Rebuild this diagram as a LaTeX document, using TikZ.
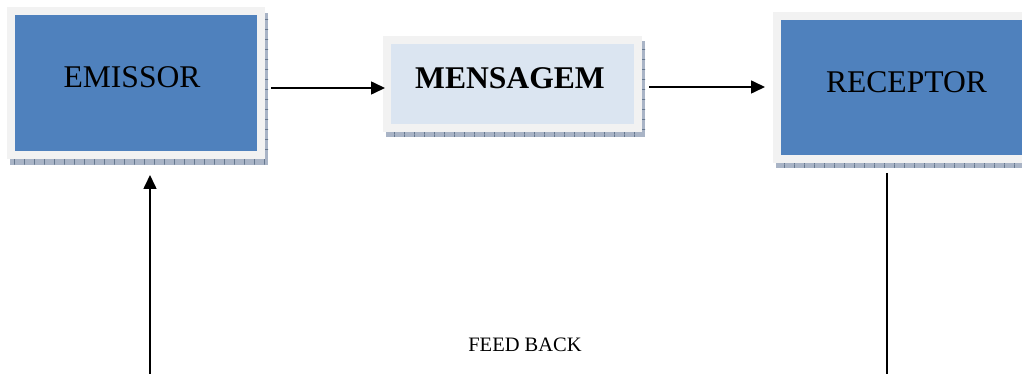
\documentclass[tikz,border=0pt]{standalone}
\usepackage{fontspec}
\setmainfont{Liberation Serif}
\usetikzlibrary{arrows.meta,calc,backgrounds,patterns}

\definecolor{boxblue}{HTML}{4F81BD}
\definecolor{paleblue}{HTML}{DBE5F1}
\definecolor{framegray}{HTML}{F2F2F2}
\definecolor{shadowfill}{HTML}{A9B4C6}
\definecolor{shadowtick}{HTML}{66788F}

% tick marks for the drop shadows
\pgfdeclarepatternformonly{vticks}{\pgfpointorigin}{\pgfpoint{10pt}{10pt}}{\pgfpoint{10pt}{10pt}}{%
  \pgfsetlinewidth{0.8pt}%
  \pgfpathmoveto{\pgfpoint{5pt}{0pt}}\pgfpathlineto{\pgfpoint{5pt}{10pt}}\pgfusepath{stroke}}
\pgfdeclarepatternformonly{hticks}{\pgfpointorigin}{\pgfpoint{10pt}{10pt}}{\pgfpoint{10pt}{10pt}}{%
  \pgfsetlinewidth{0.8pt}%
  \pgfpathmoveto{\pgfpoint{0pt}{5pt}}\pgfpathlineto{\pgfpoint{10pt}{5pt}}\pgfusepath{stroke}}

% drop shadow below and to the right of a box: #1 node, #2 dx, #3 dy
\newcommand\boxshadow[3]{%
  \fill[shadowfill] ($(#1.south west)+(#2,0)$) rectangle ($(#1.south east)+(#2,#3)$);
  \fill[pattern=vticks, pattern color=shadowtick] ($(#1.south west)+(#2,0)$) rectangle ($(#1.south east)+(#2,#3)$);
  \fill[shadowfill] ($(#1.north east)+(0,#3)$) rectangle ($(#1.south east)+(#2,#3)$);
  \fill[pattern=hticks, pattern color=shadowtick] ($(#1.north east)+(0,#3)$) rectangle ($(#1.south east)+(#2,0)$);
}

\tikzset{
  boxframe/.style={draw=framegray, line width=8pt, inner sep=0pt},
  darkbox/.style={boxframe, fill=boxblue},
  lightbox/.style={boxframe, fill=paleblue},
  bigtext/.style={font=\fontsize{31.6}{36}\selectfont, inner sep=0pt},
  bigbold/.style={font=\fontsize{31.6}{36}\selectfont\bfseries, inner sep=0pt},
  smalltext/.style={font=\fontsize{20.5}{24}\selectfont, inner sep=0pt},
  link/.style={line width=1.6pt},
  arr/.style={link, -{Triangle[length=14pt,width=13pt]}}
}

\begin{document}
\begin{tikzpicture}[x=1pt, y=-1pt]
  \useasboundingbox (0,0) rectangle (1022,374);
  \clip (0,0) rectangle (1022,374);

  % boxes
  \node[darkbox, minimum width=250pt, minimum height=144pt] (emissor) at (136,83) {};
  \node[bigtext] (emissortext) at (132,77) {EMISSOR};

  \node[lightbox, minimum width=251pt, minimum height=88pt] (mensagem) at (512.5,84) {};
  \node[bigbold] (mensagemtext) at (510,78.5) {MENSAGEM};

  \node[darkbox, minimum width=250pt, minimum height=143pt] (receptor) at (902,87.5) {};
  \node[bigtext] (receptortext) at (906.5,81.7) {RECEPTOR};

  \node[smalltext] (feedback) at (525,345) {FEED BACK};

  % shadows behind the boxes
  \begin{scope}[on background layer]
    \clip (0,0) rectangle (1022,374);
    \boxshadow{emissor}{3}{6}
    \boxshadow{mensagem}{3}{5}
    \boxshadow{receptor}{3}{5}
  \end{scope}

  % message flow
  \draw[arr] ($(emissor.east)+(6,5)$) -- ($(mensagem.west)+(2,4)$);
  \draw[arr] ($(mensagem.east)+(7,3)$) -- ($(receptor.west)+(-8,-0.5)$);

  % feedback loop
  \coordinate (fbleft) at (150,374);
  \coordinate (fbright) at (887,374);
  \draw[arr] (fbleft) -- ($(emissor.south -| fbleft)+(0,16)$);
  \draw[link] ($(receptor.south -| fbright)+(0,10)$) -- (fbright);
\end{tikzpicture}
\end{document}
